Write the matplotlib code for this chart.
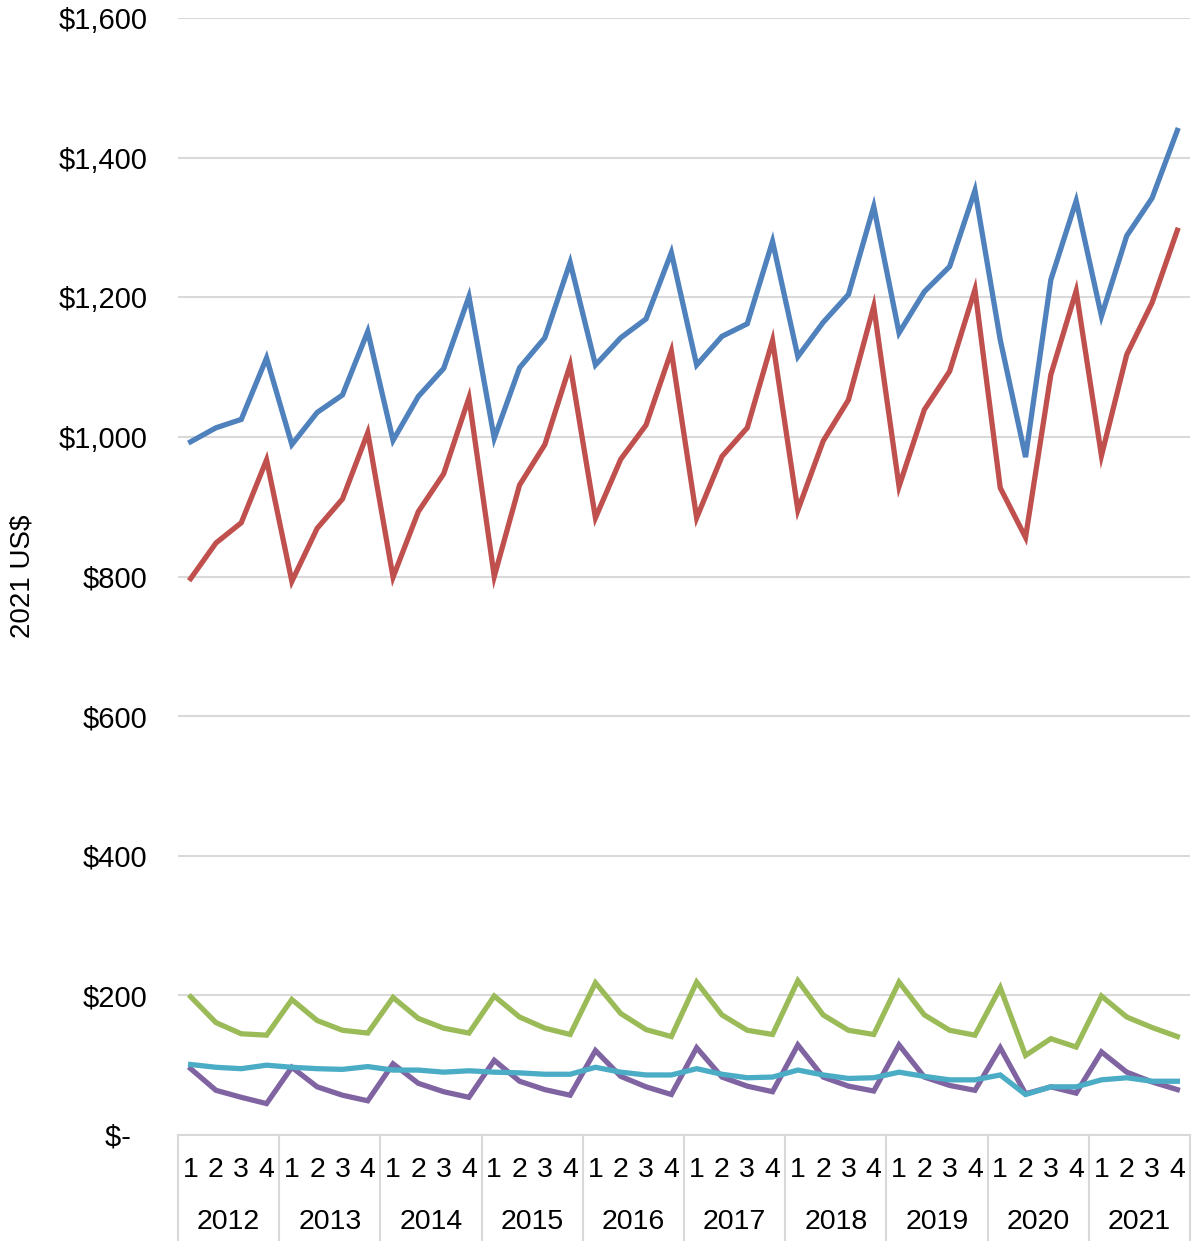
import matplotlib
matplotlib.use("Agg")
import matplotlib.pyplot as plt
import matplotlib.transforms as mtransforms

plt.rcParams['font.family'] = ['Liberation Sans', 'DejaVu Sans']

years = [2012, 2013, 2014, 2015, 2016, 2017, 2018, 2019, 2020, 2021]
quarters = ["1", "2", "3", "4"]

series_blue = [993, 1013, 1025, 1113, 989, 1035, 1060, 1151, 995, 1058, 1098, 1201,
               998, 1099, 1142, 1250, 1103, 1142, 1169, 1264, 1103, 1144, 1162, 1280,
               1115, 1164, 1204, 1330, 1149, 1208, 1244, 1353, 1139, 971, 1225, 1338,
               1173, 1288, 1342, 1439]
series_red = [797, 848, 877, 967, 793, 869, 911, 1006, 799, 893, 947, 1056,
              800, 931, 989, 1103, 884, 968, 1017, 1123, 884, 972, 1013, 1138,
              895, 994, 1053, 1187, 929, 1039, 1094, 1211, 927, 856, 1089, 1209,
              973, 1118, 1192, 1296]
series_green = [198, 161, 145, 143, 194, 164, 150, 146, 197, 167, 153, 146,
                199, 169, 153, 144, 218, 174, 151, 141, 219, 172, 150, 144,
                221, 172, 150, 144, 219, 172, 150, 143, 211, 114, 138, 126,
                199, 169, 154, 141]
series_purple = [95, 64, 54, 45, 97, 69, 57, 49, 102, 74, 62, 54,
                 107, 77, 65, 57, 121, 84, 69, 58, 125, 83, 70, 62,
                 129, 83, 70, 63, 129, 83, 71, 64, 125, 59, 69, 60,
                 119, 90, 76, 65]
series_cyan = [101, 97, 95, 100, 97, 95, 94, 98, 93, 93, 90, 92,
               90, 89, 87, 87, 97, 90, 86, 86, 95, 87, 82, 83,
               93, 86, 81, 82, 90, 84, 79, 79, 86, 58, 69, 69,
               79, 82, 77, 77]

y_ticks = [0, 200, 400, 600, 800, 1000, 1200, 1400, 1600]
y_labels = ["$-  ", "$200", "$400", "$600", "$800", "$1,000", "$1,200", "$1,400", "$1,600"]

colors = ["#4F81BD", "#C0504D", "#9BBB59", "#8064A2", "#4BACC6"]

W, H = 1197, 1241
fig = plt.figure(figsize=(W / 100, H / 100), dpi=100)
left, right, top, bottom = 178, 1190, 18, 1135
ax = fig.add_axes([left / W, 1 - bottom / H, (right - left) / W, (bottom - top) / H])

n = len(years) * len(quarters)
x = list(range(n))
for s, c in zip([series_blue, series_red, series_green, series_purple, series_cyan], colors):
    ax.plot(x, s, color=c, lw=3.8, solid_joinstyle='miter', zorder=3)

ax.set_xlim(-0.5, n - 0.5)
ax.set_ylim(0, 1600)
ax.set_yticks(y_ticks)
ax.set_yticklabels(y_labels, fontsize=21)
ax.tick_params(axis='y', length=0, pad=22)
ax.set_xticks([])
ax.grid(axis='y', color='#d9d9d9', lw=1.5, zorder=0)
for sp in ['top', 'right', 'left']:
    ax.spines[sp].set_visible(False)
ax.spines['bottom'].set_color('#d9d9d9')
ax.spines['bottom'].set_linewidth(1.5)

ax.set_ylabel("2021 US$", fontsize=20)
ax.yaxis.set_label_coords(-0.141, 0.5)

trans = mtransforms.blended_transform_factory(ax.transData, ax.transAxes)
ybot = -(H - bottom) / (bottom - top)
for i in range(len(years) + 1):
    xs = i * 4 - 0.5
    ax.plot([xs, xs], [0, ybot], transform=trans, color='#d9d9d9', lw=1.5, clip_on=False)
for i, yr in enumerate(years):
    for j, q in enumerate(quarters):
        ax.text(i * 4 + j, -0.031, q, transform=trans, ha='center', va='center', fontsize=20.5)
    ax.text(i * 4 + 1.5, -0.078, str(yr), transform=trans, ha='center', va='center', fontsize=20.5)

fig.savefig("out.png", dpi=100)
